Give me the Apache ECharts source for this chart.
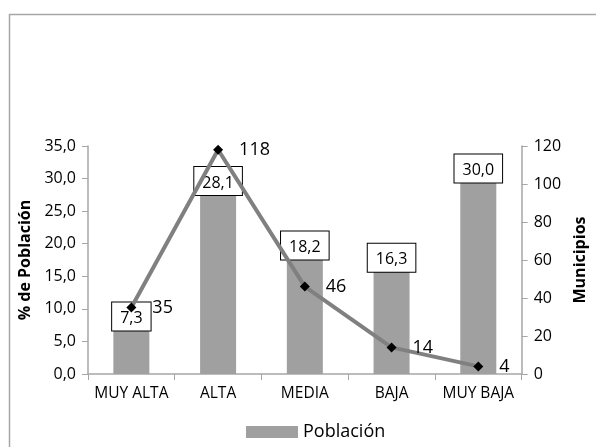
<!DOCTYPE html>
<html>
<head>
<meta charset="utf-8">
<script src="https://cdn.jsdelivr.net/npm/echarts@6/dist/echarts.min.js"></script>
<style>html,body{margin:0;padding:0;background:#fff;}#c{width:596px;height:447px;}</style>
</head>
<body>
<div id="c"></div>
<script>
var categories = ['MUY ALTA', 'ALTA', 'MEDIA', 'BAJA', 'MUY BAJA'];
var poblacion = [7.3, 28.1, 18.2, 16.3, 30.0];
var municipios = [35, 118, 46, 14, 4];

var chart = echarts.init(document.getElementById('c'));
var font = '"Open Sans", "Noto Sans", sans-serif';
function fmt(v){ return v.toFixed(1).replace('.', ','); }
chart.setOption({
  animation: false,
  textStyle: {fontFamily: font},
  graphic: [{type: 'rect', shape: {x: 9.5, y: 14.5, width: 700, height: 600}, style: {fill: 'none', stroke: '#a6a6a6', lineWidth: 1.5}, z: -10}],
  grid: {left: 88, right: 63, top: 146, bottom: 73},
  legend: {
    top: 423, left: 246, padding: 0, itemWidth: 52, itemHeight: 12, itemGap: 6,
    data: ['Población'],
    textStyle: {fontSize: 18, color: '#000', fontFamily: font},
    icon: 'rect'
  },
  xAxis: {
    type: 'category', data: categories,
    axisLine: {lineStyle: {color: '#a6a6a6', width: 1.5}},
    axisTick: {show: true, length: 6, lineStyle: {color: '#a6a6a6'}},
    axisLabel: {interval: 0, fontSize: 15.5, color: '#000', margin: 12, fontFamily: font}
  },
  yAxis: [{
    type: 'value', min: 0, max: 35, interval: 5,
    name: '% de Población', nameLocation: 'middle', nameGap: 40, nameRotate: 90,
    nameTextStyle: {fontSize: 16, fontWeight: 'bold', color: '#000', fontFamily: font},
    axisLine: {show: true, lineStyle: {color: '#a6a6a6', width: 1.5}},
    axisTick: {show: true, length: 6, lineStyle: {color: '#a6a6a6'}},
    splitLine: {show: false},
    axisLabel: {fontSize: 16, color: '#000', margin: 12, formatter: function(v){return fmt(v);}, fontFamily: font}
  }, {
    type: 'value', min: 0, max: 120, interval: 20, position: 'right',
    name: 'Municipios', nameLocation: 'middle', nameGap: 49, nameRotate: 90,
    nameTextStyle: {fontSize: 16, fontWeight: 'bold', color: '#000', fontFamily: font},
    axisLine: {show: true, lineStyle: {color: '#a6a6a6', width: 1.5}},
    axisTick: {show: true, length: 6, lineStyle: {color: '#a6a6a6'}},
    splitLine: {show: false},
    axisLabel: {fontSize: 16, color: '#000', margin: 12, fontFamily: font}
  }],
  series: [{
    name: 'Población', type: 'bar', data: poblacion, barWidth: 36, z: 2,
    itemStyle: {color: '#a0a0a0'},
    label: {
      show: true, position: 'top', distance: -4,
      formatter: function(p){return fmt(p.value);},
      fontSize: 16, color: '#000', backgroundColor: '#fff',
      borderColor: '#000', borderWidth: 1, padding: [8, 8, 4, 8], fontFamily: font
    }
  }, {
    name: 'Municipios', type: 'line', yAxisIndex: 1, data: municipios, z: 5,
    lineStyle: {color: '#808080', width: 4},
    symbol: 'diamond', symbolSize: 10,
    itemStyle: {color: '#000'},
    label: {show: true, position: 'right', distance: 16, fontSize: 18, color: '#000', fontFamily: font}
  }]
});
</script>
</body>
</html>
